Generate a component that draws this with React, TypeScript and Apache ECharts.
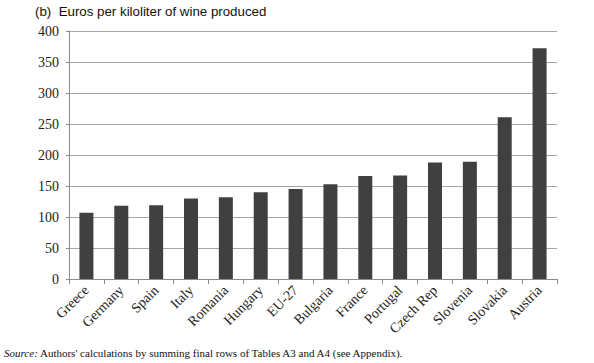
import React, { useEffect, useRef } from "react";
import * as echarts from "echarts";

const categories = ["Greece", "Germany", "Spain", "Italy", "Romania", "Hungary", "EU-27", "Bulgaria", "France", "Portugal", "Czech Rep", "Slovenia", "Slovakia", "Austria"];
const values = [107, 118, 119, 130, 132, 140, 145, 153, 166, 167, 188, 189, 261, 372];
const yTicks = { min: 0, max: 400, interval: 50 };
const titleText = "(b)  Euros per kiloliter of wine produced";
const sourceLabel = "Source:";
const sourceText = " Authors' calculations by summing final rows of Tables A3 and A4 (see Appendix).";

export default function App() {
  const ref = useRef<HTMLDivElement>(null);
  useEffect(() => {
    if (!ref.current) return;
    const chart = echarts.init(ref.current, null, { renderer: "svg" });
    const serif = "'Liberation Serif', 'Times New Roman', serif";
    chart.setOption({
      animation: false,
      backgroundColor: "#ffffff",
      grid: { left: 69, right: 37, top: 31, bottom: 84, containLabel: false },
      xAxis: {
        type: "category",
        data: categories,
        axisLine: { show: true, lineStyle: { color: "#8c8c8c", width: 1 } },
        axisTick: { show: true, alignWithLabel: false, length: 5, lineStyle: { color: "#8c8c8c" } },
        axisLabel: { rotate: 45, interval: 0, margin: 9, color: "#222", fontFamily: serif, fontSize: 14 },
      },
      yAxis: {
        type: "value",
        min: yTicks.min,
        max: yTicks.max,
        interval: yTicks.interval,
        axisLine: { show: true, lineStyle: { color: "#8c8c8c", width: 1 } },
        axisTick: { show: true, length: 3, lineStyle: { color: "#8c8c8c" } },
        axisLabel: { color: "#222", fontFamily: serif, fontSize: 14, margin: 10 },
        splitLine: { show: true, lineStyle: { color: "#a6a6a6", width: 1 } },
      },
      series: [
        {
          type: "bar",
          data: values,
          barWidth: 14,
          itemStyle: { color: "#404040" },
        },
      ],
      graphic: [
        {
          type: "text",
          left: 35,
          top: 5,
          style: { text: titleText, fill: "#111", font: "13.3px 'Liberation Sans', Arial, sans-serif" },
        },
        {
          type: "text",
          left: 4,
          top: 347,
          style: {
            text: "{i|" + sourceLabel + "}{r|" + sourceText + "}",
            rich: {
              i: { fontFamily: serif, fontStyle: "italic", fontSize: 11, fill: "#111" },
              r: { fontFamily: serif, fontSize: 11, fill: "#111" },
            },
          },
        },
      ],
    });
    return () => chart.dispose();
  }, []);
  return <div ref={ref} style={{ width: 594, height: 363, position: "absolute", left: 0, top: 0 }} />;
}
